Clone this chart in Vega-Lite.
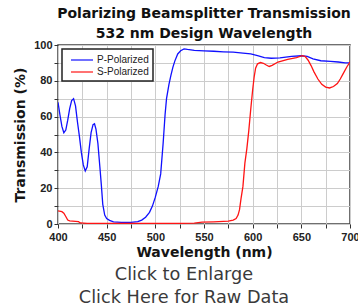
{
  "$schema": "https://vega.github.io/schema/vega-lite/v6.json",
  "autosize": {"type": "pad"},
  "padding": {"left": 12, "top": 7, "right": 0, "bottom": 0},
  "background": "white",
  "title": {
    "text": ["Polarizing Beamsplitter Transmission", "532 nm Design Wavelength"],
    "font": "DejaVu Sans",
    "fontSize": 14,
    "fontWeight": "bold",
    "color": "#111111",
    "lineHeight": 20,
    "anchor": "middle",
    "frame": "group",
    "offset": -3
  },
  "datasets": {
    "curves": [
      {"w": 400, "t": 68, "p": "P-Polarized"},
      {"w": 402, "t": 61, "p": "P-Polarized"},
      {"w": 404, "t": 54.5, "p": "P-Polarized"},
      {"w": 406, "t": 51, "p": "P-Polarized"},
      {"w": 408, "t": 52.5, "p": "P-Polarized"},
      {"w": 410, "t": 58, "p": "P-Polarized"},
      {"w": 412, "t": 64.5, "p": "P-Polarized"},
      {"w": 414, "t": 69, "p": "P-Polarized"},
      {"w": 416, "t": 70, "p": "P-Polarized"},
      {"w": 418, "t": 66, "p": "P-Polarized"},
      {"w": 420, "t": 57, "p": "P-Polarized"},
      {"w": 422, "t": 49, "p": "P-Polarized"},
      {"w": 424, "t": 40, "p": "P-Polarized"},
      {"w": 426, "t": 33, "p": "P-Polarized"},
      {"w": 428, "t": 29.6, "p": "P-Polarized"},
      {"w": 430, "t": 32, "p": "P-Polarized"},
      {"w": 432, "t": 42, "p": "P-Polarized"},
      {"w": 434, "t": 51, "p": "P-Polarized"},
      {"w": 436, "t": 55.5, "p": "P-Polarized"},
      {"w": 437.5, "t": 56, "p": "P-Polarized"},
      {"w": 439, "t": 53, "p": "P-Polarized"},
      {"w": 441, "t": 45, "p": "P-Polarized"},
      {"w": 443, "t": 32, "p": "P-Polarized"},
      {"w": 444.5, "t": 22, "p": "P-Polarized"},
      {"w": 446, "t": 11, "p": "P-Polarized"},
      {"w": 448, "t": 5, "p": "P-Polarized"},
      {"w": 450, "t": 3, "p": "P-Polarized"},
      {"w": 453, "t": 2, "p": "P-Polarized"},
      {"w": 457, "t": 1.2, "p": "P-Polarized"},
      {"w": 465, "t": 0.9, "p": "P-Polarized"},
      {"w": 475, "t": 0.9, "p": "P-Polarized"},
      {"w": 482, "t": 1.3, "p": "P-Polarized"},
      {"w": 486, "t": 2.2, "p": "P-Polarized"},
      {"w": 490, "t": 3.8, "p": "P-Polarized"},
      {"w": 494, "t": 6.5, "p": "P-Polarized"},
      {"w": 497, "t": 10, "p": "P-Polarized"},
      {"w": 500, "t": 15, "p": "P-Polarized"},
      {"w": 503, "t": 21, "p": "P-Polarized"},
      {"w": 505.5, "t": 28, "p": "P-Polarized"},
      {"w": 508, "t": 45, "p": "P-Polarized"},
      {"w": 510, "t": 61, "p": "P-Polarized"},
      {"w": 511.5, "t": 70, "p": "P-Polarized"},
      {"w": 514, "t": 78, "p": "P-Polarized"},
      {"w": 516, "t": 83, "p": "P-Polarized"},
      {"w": 518, "t": 87.5, "p": "P-Polarized"},
      {"w": 520, "t": 91, "p": "P-Polarized"},
      {"w": 523, "t": 95, "p": "P-Polarized"},
      {"w": 526, "t": 96.8, "p": "P-Polarized"},
      {"w": 529.5, "t": 97.8, "p": "P-Polarized"},
      {"w": 533, "t": 97.5, "p": "P-Polarized"},
      {"w": 540, "t": 97, "p": "P-Polarized"},
      {"w": 550, "t": 96.7, "p": "P-Polarized"},
      {"w": 560, "t": 96.5, "p": "P-Polarized"},
      {"w": 570, "t": 96.2, "p": "P-Polarized"},
      {"w": 580, "t": 96, "p": "P-Polarized"},
      {"w": 590, "t": 95.5, "p": "P-Polarized"},
      {"w": 598, "t": 95, "p": "P-Polarized"},
      {"w": 605, "t": 94, "p": "P-Polarized"},
      {"w": 612, "t": 93, "p": "P-Polarized"},
      {"w": 619, "t": 92.6, "p": "P-Polarized"},
      {"w": 628, "t": 92.8, "p": "P-Polarized"},
      {"w": 640, "t": 93.6, "p": "P-Polarized"},
      {"w": 650, "t": 94, "p": "P-Polarized"},
      {"w": 656, "t": 93.6, "p": "P-Polarized"},
      {"w": 662, "t": 92.3, "p": "P-Polarized"},
      {"w": 670, "t": 91.2, "p": "P-Polarized"},
      {"w": 680, "t": 90.9, "p": "P-Polarized"},
      {"w": 688, "t": 90.5, "p": "P-Polarized"},
      {"w": 695, "t": 90, "p": "P-Polarized"},
      {"w": 700, "t": 90, "p": "P-Polarized"},
      {"w": 400, "t": 7.3, "p": "S-Polarized"},
      {"w": 404, "t": 6.9, "p": "S-Polarized"},
      {"w": 406, "t": 6, "p": "S-Polarized"},
      {"w": 408, "t": 4.2, "p": "S-Polarized"},
      {"w": 410, "t": 2.2, "p": "S-Polarized"},
      {"w": 412, "t": 1.7, "p": "S-Polarized"},
      {"w": 418, "t": 1.5, "p": "S-Polarized"},
      {"w": 421, "t": 1.3, "p": "S-Polarized"},
      {"w": 423, "t": 0.6, "p": "S-Polarized"},
      {"w": 430, "t": 0.4, "p": "S-Polarized"},
      {"w": 470, "t": 0.3, "p": "S-Polarized"},
      {"w": 520, "t": 0.3, "p": "S-Polarized"},
      {"w": 540, "t": 0.5, "p": "S-Polarized"},
      {"w": 548, "t": 1, "p": "S-Polarized"},
      {"w": 560, "t": 1.2, "p": "S-Polarized"},
      {"w": 575, "t": 1.6, "p": "S-Polarized"},
      {"w": 580, "t": 2.2, "p": "S-Polarized"},
      {"w": 583, "t": 3, "p": "S-Polarized"},
      {"w": 585, "t": 5, "p": "S-Polarized"},
      {"w": 586.5, "t": 8, "p": "S-Polarized"},
      {"w": 588, "t": 14, "p": "S-Polarized"},
      {"w": 590, "t": 21, "p": "S-Polarized"},
      {"w": 592, "t": 34, "p": "S-Polarized"},
      {"w": 594, "t": 42, "p": "S-Polarized"},
      {"w": 596, "t": 52, "p": "S-Polarized"},
      {"w": 598, "t": 64, "p": "S-Polarized"},
      {"w": 600, "t": 75, "p": "S-Polarized"},
      {"w": 601.5, "t": 82, "p": "S-Polarized"},
      {"w": 603, "t": 87, "p": "S-Polarized"},
      {"w": 605, "t": 89.5, "p": "S-Polarized"},
      {"w": 608, "t": 90.2, "p": "S-Polarized"},
      {"w": 611, "t": 89.8, "p": "S-Polarized"},
      {"w": 614, "t": 88.8, "p": "S-Polarized"},
      {"w": 617, "t": 88, "p": "S-Polarized"},
      {"w": 620, "t": 88.6, "p": "S-Polarized"},
      {"w": 626, "t": 90.5, "p": "S-Polarized"},
      {"w": 636, "t": 92, "p": "S-Polarized"},
      {"w": 645, "t": 93, "p": "S-Polarized"},
      {"w": 651, "t": 94, "p": "S-Polarized"},
      {"w": 654, "t": 93.5, "p": "S-Polarized"},
      {"w": 657, "t": 91.5, "p": "S-Polarized"},
      {"w": 660, "t": 88.5, "p": "S-Polarized"},
      {"w": 663, "t": 85, "p": "S-Polarized"},
      {"w": 667, "t": 81, "p": "S-Polarized"},
      {"w": 671, "t": 78, "p": "S-Polarized"},
      {"w": 675, "t": 76.5, "p": "S-Polarized"},
      {"w": 679, "t": 76, "p": "S-Polarized"},
      {"w": 683, "t": 76.8, "p": "S-Polarized"},
      {"w": 687, "t": 78.5, "p": "S-Polarized"},
      {"w": 690, "t": 81, "p": "S-Polarized"},
      {"w": 693, "t": 84, "p": "S-Polarized"},
      {"w": 697, "t": 88, "p": "S-Polarized"},
      {"w": 700, "t": 90.5, "p": "S-Polarized"}
    ]
  },
  "vconcat": [
    {
      "width": 292,
      "height": 179,
      "title": {
        "text": "Click to Enlarge",
        "subtitle": "Click Here for Raw Data",
        "orient": "bottom",
        "anchor": "middle",
        "dx": -20,
        "offset": 7,
        "font": "DejaVu Sans",
        "fontSize": 17.7,
        "fontWeight": "normal",
        "color": "#3a3a3a",
        "subtitleFont": "DejaVu Sans",
        "subtitleFontSize": 17.7,
        "subtitleColor": "#3a3a3a",
        "subtitlePadding": 5
      },
      "layer": [
        {
          "data": {"name": "curves"},
          "mark": {"type": "line", "strokeWidth": 1.3, "clip": true},
          "encoding": {
            "x": {
              "field": "w",
              "type": "quantitative",
              "scale": {"domain": [400, 700], "nice": false, "zero": false},
              "axis": {
                "title": "Wavelength (nm)",
                "values": [400, 425, 450, 475, 500, 525, 550, 575, 600, 625, 650, 675, 700],
                "labelOverlap": false,
                "labelExpr": "datum.value % 50 === 0 ? datum.label : ''"
              }
            },
            "y": {
              "field": "t",
              "type": "quantitative",
              "scale": {"domain": [0, 100], "nice": false},
              "axis": {
                "title": "Transmission (%)",
                "values": [0, 10, 20, 30, 40, 50, 60, 70, 80, 90, 100],
                "labelOverlap": false,
                "labelExpr": "datum.value % 20 === 0 ? datum.label : ''"
              }
            },
            "color": {
              "field": "p",
              "type": "nominal",
              "scale": {"domain": ["P-Polarized", "S-Polarized"], "range": ["#1010ff", "#ff1414"]},
              "legend": {"title": null, "orient": "top-left", "offset": 4}
            },
            "order": {"field": "w", "type": "quantitative"}
          }
        },
        {
          "mark": {"type": "rule", "color": "#505050", "strokeWidth": 1.5, "strokeDash": [7, 4]},
          "encoding": {
            "x": {
              "datum": 532,
              "type": "quantitative",
              "axis": {
                "title": "Wavelength (nm)",
                "values": [400, 425, 450, 475, 500, 525, 550, 575, 600, 625, 650, 675, 700],
                "labelOverlap": false,
                "labelExpr": "datum.value % 50 === 0 ? datum.label : ''"
              }
            }
          }
        },
        {
          "mark": {"type": "text", "align": "right", "baseline": "middle", "font": "Liberation Sans", "fontWeight": "bold", "fontSize": 8.5, "color": "#a8a8a8"},
          "encoding": {
            "x": {
              "datum": 682,
              "type": "quantitative",
              "axis": {
                "title": "Wavelength (nm)",
                "values": [400, 425, 450, 475, 500, 525, 550, 575, 600, 625, 650, 675, 700],
                "labelOverlap": false,
                "labelExpr": "datum.value % 50 === 0 ? datum.label : ''"
              }
            },
            "y": {
              "datum": 5,
              "type": "quantitative",
              "axis": {
                "title": "Transmission (%)",
                "values": [0, 10, 20, 30, 40, 50, 60, 70, 80, 90, 100],
                "labelOverlap": false,
                "labelExpr": "datum.value % 20 === 0 ? datum.label : ''"
              }
            },
            "text": {"value": "THOR"}
          }
        },
        {
          "mark": {"type": "text", "align": "left", "baseline": "middle", "font": "Liberation Sans", "fontWeight": "bold", "fontSize": 8.5, "color": "#d4d4d4"},
          "encoding": {
            "x": {
              "datum": 682,
              "type": "quantitative",
              "axis": {
                "title": "Wavelength (nm)",
                "values": [400, 425, 450, 475, 500, 525, 550, 575, 600, 625, 650, 675, 700],
                "labelOverlap": false,
                "labelExpr": "datum.value % 50 === 0 ? datum.label : ''"
              }
            },
            "y": {
              "datum": 5,
              "type": "quantitative",
              "axis": {
                "title": "Transmission (%)",
                "values": [0, 10, 20, 30, 40, 50, 60, 70, 80, 90, 100],
                "labelOverlap": false,
                "labelExpr": "datum.value % 20 === 0 ? datum.label : ''"
              }
            },
            "text": {"value": "LABS"}
          }
        }
      ]
    }
  ],
  "config": {
    "view": {"stroke": "#404040", "strokeWidth": 1.5},
    "axis": {
      "grid": true,
      "gridColor": "#cccccc",
      "gridWidth": 1,
      "domain": false,
      "tickColor": "#333333",
      "tickSize": 4,
      "labelOverlap": false,
      "labelFlush": false,
      "labelFont": "Liberation Sans",
      "labelFontWeight": "bold",
      "labelFontSize": 11,
      "labelColor": "#222222",
      "titleFont": "DejaVu Sans",
      "titleFontWeight": "bold",
      "titleFontSize": 14,
      "titleColor": "#151515"
    },
    "axisX": {"labelPadding": 3, "titlePadding": 3},
    "axisY": {"labelPadding": 2, "titlePadding": 6},
    "legend": {
      "fillColor": "white",
      "strokeColor": "#222222",
      "strokeWidth": 1.5,
      "padding": 4,
      "symbolType": "M-2.67,0H1",
      "symbolSize": 144,
      "symbolOffset": 14,
      "labelOffset": 3,
      "symbolStrokeWidth": 1.2,
      "labelFont": "Liberation Sans",
      "labelFontSize": 10,
      "labelColor": "#222222",
      "rowPadding": 0
    }
  }
}
